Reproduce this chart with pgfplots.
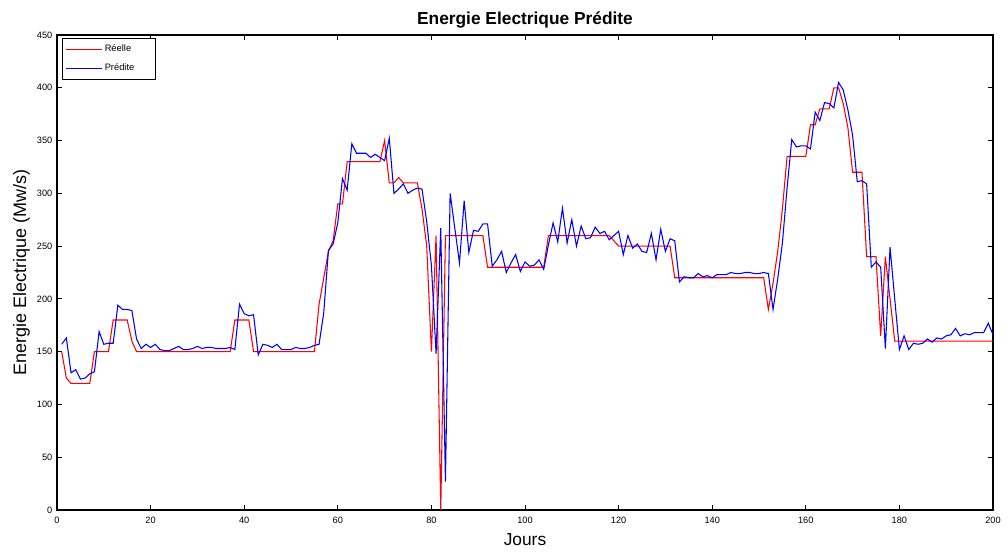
\documentclass[border=0pt]{standalone}
\usepackage{fontspec}
\setmainfont{Liberation Sans}
\usepackage{pgfplots}
\usepackage{pgfplotstable}
\pgfplotsset{compat=1.18}

\pgfplotstableread{
x y
1 150
2 125
3 120
4 120
5 120
6 120
7 120
8 150
9 150
10 150
11 150
12 180
13 180
14 180
15 180
16 160
17 150
18 150
19 150
20 150
21 150
22 150
23 150
24 150
25 150
26 150
27 150
28 150
29 150
30 150
31 150
32 150
33 150
34 150
35 150
36 150
37 150
38 180
39 180
40 180
41 180
42 150
43 150
44 150
45 150
46 150
47 150
48 150
49 150
50 150
51 150
52 150
53 150
54 150
55 150
56 195
57 220
58 245
59 255
60 290
61 290
62 330
63 330
64 330
65 330
66 330
67 330
68 330
69 330
70 350
71 310
72 310
73 315
74 310
75 310
76 310
77 310
78 285
79 250
80 150
81 260
82 0
83 260
84 260
85 260
86 260
87 260
88 260
89 260
90 260
91 260
92 230
93 230
94 230
95 230
96 230
97 230
98 230
99 230
100 230
101 230
102 230
103 230
104 230
105 260
106 260
107 260
108 260
109 260
110 260
111 260
112 260
113 260
114 260
115 260
116 260
117 260
118 260
119 255
120 250
121 250
122 250
123 250
124 250
125 250
126 250
127 250
128 250
129 250
130 250
131 250
132 220
133 220
134 220
135 220
136 220
137 220
138 220
139 220
140 220
141 220
142 220
143 220
144 220
145 220
146 220
147 220
148 220
149 220
150 220
151 220
152 190
153 215
154 245
155 285
156 335
157 335
158 335
159 335
160 335
161 365
162 365
163 380
164 380
165 380
166 400
167 400
168 385
169 362
170 320
171 320
172 320
173 240
174 240
175 240
176 165
177 240
178 200
179 160
180 160
181 160
182 160
183 160
184 160
185 160
186 160
187 160
188 160
189 160
190 160
191 160
192 160
193 160
194 160
195 160
196 160
197 160
198 160
199 160
200 160
}\reelle

\pgfplotstableread{
x y
1 157
2 163
3 130
4 133
5 124
6 125
7 129
8 131
9 169
10 157
11 158
12 158
13 194
14 190
15 190
16 189
17 162
18 153
19 157
20 154
21 157
22 152
23 151
24 151
25 153
26 155
27 152
28 152
29 153
30 155
31 153
32 154
33 154
34 153
35 153
36 153
37 154
38 152
39 195
40 186
41 184
42 185
43 147
44 157
45 156
46 154
47 157
48 152
49 152
50 152
51 154
52 153
53 153
54 154
55 156
56 157
57 187
58 246
59 252
60 272
61 314
62 303
63 347
64 338
65 338
66 338
67 334
68 337
69 334
70 331
71 352
72 300
73 304
74 309
75 300
76 303
77 305
78 304
79 273
80 232
81 148
82 267
83 27
84 300
85 267
86 234
87 293
88 244
89 265
90 264
91 271
92 271
93 231
94 237
95 245
96 225
97 234
98 242
99 226
100 235
101 231
102 232
103 237
104 228
105 251
106 272
107 254
108 286
109 253
110 275
111 250
112 269
113 257
114 258
115 268
116 262
117 264
118 256
119 260
120 264
121 242
122 260
123 248
124 252
125 245
126 244
127 262
128 237
129 266
130 245
131 257
132 255
133 216
134 221
135 220
136 220
137 224
138 221
139 222
140 220
141 223
142 223
143 223
144 225
145 224
146 224
147 225
148 225
149 224
150 224
151 225
152 224
153 190
154 219
155 253
156 305
157 351
158 344
159 345
160 345
161 342
162 377
163 369
164 386
165 385
166 381
167 405
168 398
169 379
170 355
171 311
172 312
173 309
174 230
175 235
176 230
177 153
178 249
179 200
180 152
181 165
182 152
183 158
184 157
185 158
186 162
187 159
188 163
189 162
190 165
191 166
192 172
193 165
194 167
195 166
196 168
197 168
198 168
199 177
200 166
}\predite

\definecolor{mred}{rgb}{1,0,0}
\definecolor{mblue}{rgb}{0,0,1}

\begin{document}
\begin{tikzpicture}
\path[use as bounding box] (-42.75pt,-30.75pt) rectangle (713.25pt,382.5pt);
\begin{axis}[
  at={(0pt,0pt)}, anchor=south west,
  scale only axis,
  width=702pt, height=356.25pt,
  xmin=0, xmax=200, ymin=0, ymax=450,
  xtick={0,20,...,200},
  ytick={0,50,...,450},
  tick align=inside,
  xtick pos=both, ytick pos=both,
  major tick length=3.5pt,
  axis line style={line width=0.9pt},
  every tick/.style={black, line width=0.6pt},
  /pgf/number format/assume math mode=true,
  tick label style={font=\fontsize{6.9}{8}\selectfont},
  xticklabel style={yshift=-1.5pt},
  title={\textbf{Energie Electrique Prédite}},
  title style={font=\fontsize{13}{15}\selectfont, at={(axis description cs:0.5,1.0049)}, anchor=base},
  xlabel={Jours},
  xlabel style={font=\fontsize{13}{15}\selectfont, at={(axis description cs:0.5,-0.0737)}, anchor=base},
  ylabel={Energie Electrique (Mw/s)},
  ylabel style={font=\fontsize{13.5}{16}\selectfont, at={(axis description cs:-0.0331,0.5)}, anchor=base},
  legend style={font=\fontsize{7}{8}\selectfont, draw=black, line width=0.6pt,
    at={(axis description cs:0.0053,0.9937)}, anchor=north west,
    inner xsep=2pt, inner ysep=3pt, row sep=3.5pt, nodes={inner sep=2pt}},
  legend cell align=left,
]
\addlegendimage{legend image code/.code={\draw[draw=mred, line width=0.8pt] (0pt,0pt) -- (27pt,0pt);}}
\addlegendentry{\makebox[34pt][l]{Réelle}}
\addlegendimage{legend image code/.code={\draw[draw=mblue, line width=0.8pt] (0pt,0pt) -- (27pt,0pt);}}
\addlegendentry{\makebox[34pt][l]{Prédite}}
\addplot[draw=mred, line width=0.8pt, forget plot] table[x=x,y=y] {\reelle};
\addplot[draw=mblue, line width=0.8pt, forget plot] table[x=x,y=y] {\predite};
\end{axis}
\end{tikzpicture}
\end{document}
